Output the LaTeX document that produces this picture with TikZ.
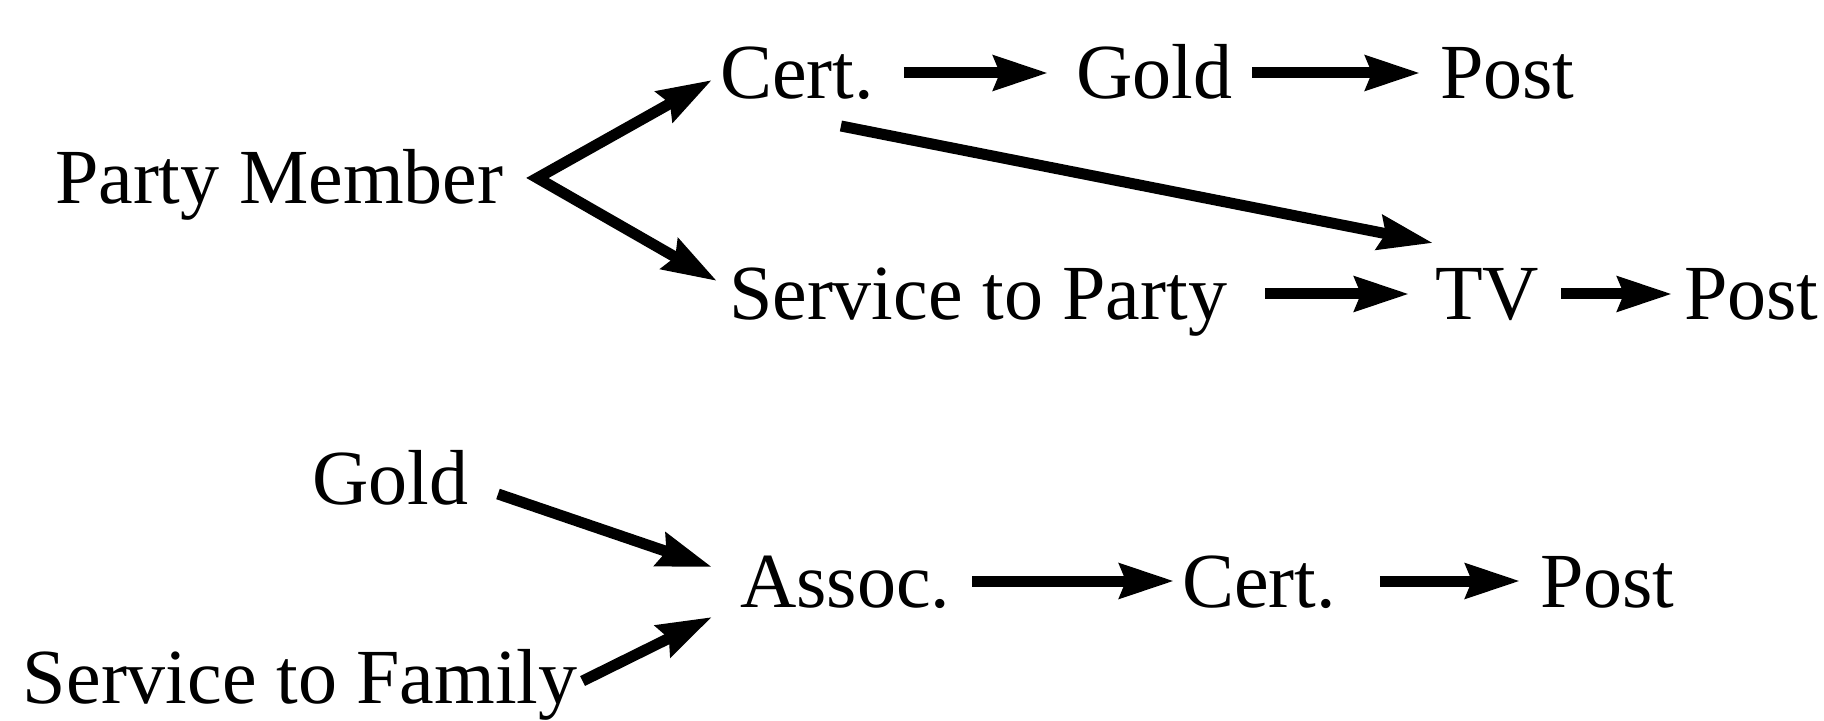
\documentclass[tikz,border=0pt]{standalone}
\usepackage{fontspec}
\setmainfont{Liberation Serif}
\usetikzlibrary{arrows.meta}
\begin{document}
\begin{tikzpicture}[x=0.5pt,y=-0.5pt,
  lbl/.style={anchor=base west,inner sep=0pt,outer sep=0pt,
    font=\fontsize{39}{46}\selectfont,text height=26pt,text depth=0pt},
  tip/.tip={Stealth[length=27pt,width=17pt,inset=3pt]},
  arr/.style={line width=5.5pt,-tip},
  harr/.style 2 args={arr,shorten <=#1,shorten >=#2}]
\useasboundingbox (0,0) rectangle (1824,721);
% top group
\node[lbl] (pm) at (55,204) {Party Member};
\node[lbl] (c1) at (720,99) {Cert.};
\node[lbl] (g1) at (1076,99) {Gold};
\node[lbl] (p1) at (1440,99) {Post};
\node[lbl] (sp) at (729,320) {Service to Party};
\node[lbl] (tv) at (1435,320) {TV};
\node[lbl] (p2) at (1684,320) {Post};
% bottom group
\node[lbl] (g2) at (312,504) {Gold};
\node[lbl] (as) at (740,607) {Assoc.};
\node[lbl] (c2) at (1182,607) {Cert.};
\node[lbl] (p3) at (1540,607) {Post};
\node[lbl] (sf) at (23,703) {Service to Family};
% connectors
\coordinate (fork) at ([xshift=17pt]pm.east);
\draw[line width=5.5pt,line join=miter,tip-tip]
  ([shift={(-8,7)}]c1.west) -- (fork) -- ([shift={(-12,-13)}]sp.west);
\draw[harr={15pt}{14pt}] (c1.east) -- (g1.west);
\draw[harr={10pt}{10pt}] (g1.east) -- (p1.west);
\draw[arr] ([shift={(44,27)}]c1.south) -- ([shift={(-2,-25)}]tv.north west);
\draw[harr={19pt}{13pt}] (sp.east) -- (tv.west);
\draw[harr={11pt}{6pt}] (tv.east) -- (p2.west);
\draw[arr] ([shift={(30,16)}]g2.east) -- ([shift={(-28,-14)}]as.west);
\draw[arr] ([shift={(5,4)}]sf.east) -- ([shift={(-28,36)}]as.west);
\draw[harr={11pt}{4pt}] (as.east) -- (c2.west);
\draw[harr={22pt}{10pt}] (c2.east) -- (p3.west);
\end{tikzpicture}
\end{document}
